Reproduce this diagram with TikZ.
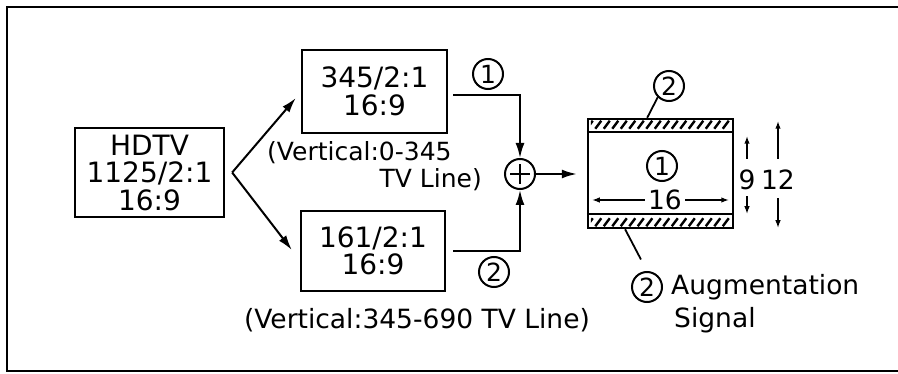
\documentclass[tikz,border=0pt]{standalone}
\usepackage{fontspec}
\setsansfont{DejaVu Sans}
\usetikzlibrary{positioning, arrows.meta, calc}

\begin{document}
\begin{tikzpicture}[x=1pt, y=-1pt,
  sigbox/.style={
    draw, line width=2.3pt, align=center, inner sep=0pt,
    font=\sffamily\fontsize{28}{27.5}\selectfont
  },
  numcirc/.style={
    circle, draw, line width=2pt, minimum size=30pt, inner sep=0pt,
    font=\sffamily\fontsize{25}{25}\selectfont
  },
  note/.style={font=\sffamily\fontsize{26.5}{28}\selectfont, inner sep=0pt},
  flow/.style={-{Latex[length=15pt,width=9pt]}, line width=2pt},
  dimline/.style={-{Latex[length=8pt,width=5.5pt]}, line width=1.8pt},
  hatch/.style={line width=2.4pt},
]
\useasboundingbox (0,0) rectangle (898,374);

% frame
\draw[line width=2.5pt] (898,7) -- (7,7) -- (7,371) -- (898,371);

% source and the two halves
\node[sigbox, minimum width=149pt, minimum height=89pt] (hdtv) at (149.5,172.5)
  {HDTV\\1125/2:1\\16:9};
\node[sigbox, minimum width=145pt, minimum height=83pt] (upper) at (374.5,91.5)
  {345/2:1\\16:9};
\node[sigbox, minimum width=144pt, minimum height=80pt] (lower) at (373,251)
  {161/2:1\\16:9};

\node[note, font=\sffamily\fontsize{25}{25}\selectfont, anchor=west] (vert1) at (267,153) {(Vertical:0-345};
\node[note, font=\sffamily\fontsize{25}{25}\selectfont, anchor=east] (vert2) at (482,180) {TV Line)};
\node[note] (vert3) at (417,320) {(Vertical:345-690 TV Line)};

\draw[flow] ([xshift=7pt]hdtv.east) -- ([xshift=-5pt,yshift=-6.5pt]upper.west);
\draw[flow] ([xshift=7pt]hdtv.east) -- ([xshift=-8pt,yshift=1pt]lower.west);

% adder
\node[circle, draw, line width=2pt, minimum size=30pt, inner sep=0pt] (sum) at (520,174) {};
\draw[line width=2.2pt]
  ($(sum.north)!0.2!(sum.south)$) -- ($(sum.north)!0.8!(sum.south)$)
  ($(sum.west)!0.2!(sum.east)$) -- ($(sum.west)!0.8!(sum.east)$);

\node[numcirc] (one) at (488,74) {1};
\node[numcirc] (two) at (494,272) {2};

\draw[flow] ([xshift=5pt,yshift=-3.5pt]upper.east) -| (sum.north);
\draw[flow] ([xshift=7pt]lower.east) -| (sum.south);

% 16:9 picture inside 4:3 frame
\node[draw, line width=2.5pt, minimum width=145pt, minimum height=109pt, inner sep=0pt]
  (screen) at (660.5,173.5) {};
\draw[flow] (sum.east) -- ([xshift=-10pt]screen.west |- sum.east);

\coordinate (bandA) at ($(screen.north west)+(0,14)$);
\coordinate (bandB) at ($(screen.south west)+(0,-15)$);
\draw[line width=2pt] (bandA) -- (bandA -| screen.east);
\draw[line width=2pt] (bandB) -- (bandB -| screen.east);
\begin{scope}
  \clip ($(screen.north west)+(4,0)$) rectangle ($(bandA -| screen.east)+(-4,0)$);
  \foreach \i in {0,...,17}
    \draw[hatch] ($(bandA)+(8.5*\i,-3)$) -- ++(6,-8);
\end{scope}
\begin{scope}
  \clip ($(bandB)+(4,0)$) rectangle ($(screen.south east)+(-4,0)$);
  \foreach \i in {0,...,17}
    \draw[hatch] ($(screen.south west)+(8.5*\i,-3)$) -- ++(6,-8);
\end{scope}

\node[numcirc] (mid) at (662,166) {1};
\node[note, fill=white, inner xsep=3pt] (width) at (665,200) {16};
\draw[dimline] (width.west) -- ($(width -| screen.west)+(5,0)$);
\draw[dimline] (width.east) -- ($(width -| screen.east)+(-5,0)$);

\node[note] (nine) at (747,180) {9};
\draw[dimline] ([yshift=11pt]nine.north) -- ([yshift=-4pt]nine |- bandA);
\draw[dimline] ([yshift=-6pt]nine.south) -- (nine |- bandB);
\node[note] (twelve) at (778,180) {12};
\draw[dimline] ([yshift=11pt]twelve.north) -- ([yshift=-3pt]twelve |- screen.north);
\draw[dimline] ([yshift=-8pt]twelve.south) -- ([yshift=1pt]twelve |- screen.south);

% augmentation markers
\node[numcirc] (topaug) at (669,86) {2};
\draw[line width=1.8pt] ($(screen.north west)!0.41!(screen.north east)$) -- (topaug.south west);
\node[numcirc] (augmark) at (647,287) {2};
\draw[line width=1.8pt, shorten >=13pt] ($(screen.south west)!0.26!(screen.south east)$) -- (augmark.north);
\node[note, anchor=west] (augtext) at ([xshift=8pt]augmark.east) {Augmentation};
\node[note, anchor=base west] (sigtext) at ($(augtext.base west)+(3,33)$) {Signal};

\end{tikzpicture}
\end{document}
